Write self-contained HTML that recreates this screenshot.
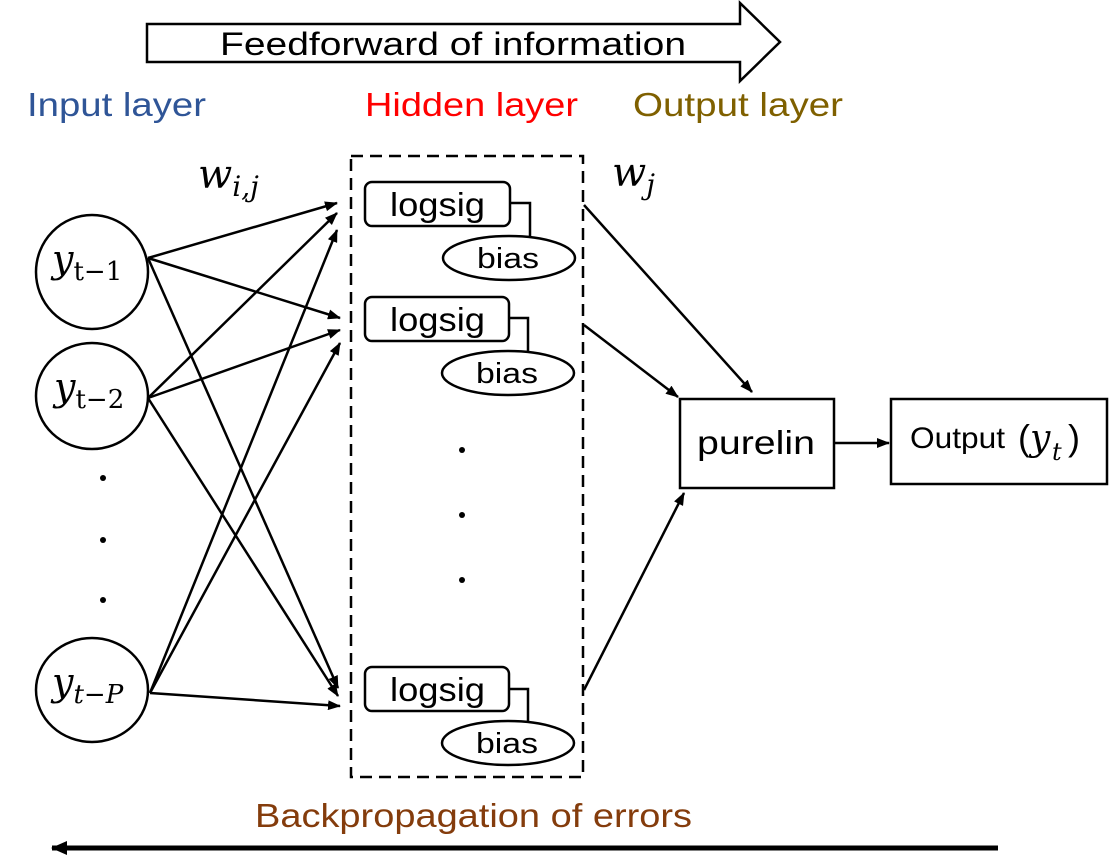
<!DOCTYPE html>
<html><head><meta charset="utf-8"><style>
html,body{margin:0;padding:0;background:#fff;width:1118px;height:864px;overflow:hidden}
svg text{font-family:"Liberation Sans","DejaVu Sans",sans-serif}
.m{font-family:"DejaVu Serif","Liberation Serif",serif;font-style:italic}
</style></head><body>
<svg width="1118" height="864" viewBox="0 0 1118 864" xmlns="http://www.w3.org/2000/svg">
<defs>
<marker id="a" markerWidth="13" markerHeight="10" refX="12" refY="5" orient="auto" markerUnits="userSpaceOnUse"><path d="M0,0 L13,5 L0,10 z" fill="#000"/></marker>
<marker id="b" markerWidth="16" markerHeight="14" refX="15" refY="7" orient="auto" markerUnits="userSpaceOnUse"><path d="M0,0 L16,7 L0,14 z" fill="#000"/></marker>
</defs>
<path d="M147,24 L740,24 L740,3 L780,42 L740,81 L740,62 L147,62 Z" fill="#fff" stroke="#000" stroke-width="2.5"/>
<text x="220" y="55" font-size="32" textLength="466" lengthAdjust="spacingAndGlyphs">Feedforward of information</text>
<text x="27" y="116" font-size="33" fill="#2F5597" textLength="179" lengthAdjust="spacingAndGlyphs">Input layer</text>
<text x="365" y="116" font-size="33" fill="#FF0000" textLength="213" lengthAdjust="spacingAndGlyphs">Hidden layer</text>
<text x="633" y="116" font-size="33" fill="#7F6000" textLength="210" lengthAdjust="spacingAndGlyphs">Output layer</text>
<text x="198" y="188" font-size="40" class="m">w<tspan font-size="28" dy="8">i,j</tspan></text>
<text x="612" y="186" font-size="40" class="m">w<tspan font-size="28" dy="8">j</tspan></text>
<g fill="#fff" stroke="#000" stroke-width="2.5">
<ellipse cx="92" cy="272" rx="56" ry="57"/>
<ellipse cx="92" cy="396" rx="56" ry="53"/>
<ellipse cx="92" cy="690" rx="56" ry="52"/>
</g>
<text x="52" y="272" font-size="38" class="m">y<tspan font-size="26" dy="8" font-style="normal">t−1</tspan></text>
<text x="54" y="400" font-size="38" class="m">y<tspan font-size="26" dy="8" font-style="normal">t−2</tspan></text>
<text x="52" y="695" font-size="38" class="m">y<tspan font-size="26" dy="8">t−P</tspan></text>
<g fill="#000"><circle cx="103" cy="478" r="3"/><circle cx="103" cy="540" r="3"/><circle cx="103" cy="600" r="3"/>
<circle cx="462" cy="450" r="3"/><circle cx="462" cy="515" r="3"/><circle cx="462" cy="580" r="3"/></g>
<g stroke="#000" stroke-width="2.5" marker-end="url(#a)">
<line x1="148" y1="258" x2="337" y2="203"/>
<line x1="148" y1="258" x2="340" y2="318"/>
<line x1="148" y1="258" x2="338" y2="688"/>
<line x1="148" y1="398" x2="337" y2="213"/>
<line x1="148" y1="398" x2="340" y2="330"/>
<line x1="148" y1="398" x2="338" y2="696"/>
<line x1="150" y1="693" x2="337" y2="230"/>
<line x1="150" y1="693" x2="340" y2="343"/>
<line x1="150" y1="693" x2="340" y2="706"/>
<line x1="584" y1="205" x2="752" y2="392"/>
<line x1="584" y1="325" x2="678" y2="397"/>
<line x1="584" y1="690" x2="684" y2="493"/>
<line x1="834" y1="443" x2="889" y2="443"/>
</g>
<rect x="351" y="156" width="232" height="621" fill="none" stroke="#000" stroke-width="2.5" stroke-dasharray="12,7"/>
<g fill="#fff" stroke="#000" stroke-width="2.5">
<rect x="365" y="182" width="145" height="44" rx="7"/>
<rect x="365" y="297" width="144" height="44" rx="7"/>
<rect x="365" y="667" width="144" height="44" rx="7"/>
<polyline points="510,203 530,203 530,237" fill="none"/>
<polyline points="509,318 528,318 528,352" fill="none"/>
<polyline points="509,689 528,689 528,722" fill="none"/>
<ellipse cx="509" cy="258" rx="66" ry="22"/>
<ellipse cx="508" cy="373" rx="66" ry="22"/>
<ellipse cx="508" cy="743" rx="66" ry="22"/>
</g>
<g font-size="33">
<text x="390" y="216" textLength="95" lengthAdjust="spacingAndGlyphs">logsig</text>
<text x="390" y="331" textLength="95" lengthAdjust="spacingAndGlyphs">logsig</text>
<text x="390" y="701" textLength="95" lengthAdjust="spacingAndGlyphs">logsig</text>
</g>
<g font-size="29">
<text x="477" y="268" textLength="62" lengthAdjust="spacingAndGlyphs">bias</text>
<text x="476" y="383" textLength="62" lengthAdjust="spacingAndGlyphs">bias</text>
<text x="476" y="753" textLength="62" lengthAdjust="spacingAndGlyphs">bias</text>
</g>
<rect x="680" y="399" width="154" height="89" fill="#fff" stroke="#000" stroke-width="2.5"/>
<text x="697" y="454" font-size="33" textLength="118" lengthAdjust="spacingAndGlyphs">purelin</text>
<rect x="891" y="399" width="216" height="85" fill="#fff" stroke="#000" stroke-width="2.5"/>
<text x="910" y="448" font-size="30" textLength="95" lengthAdjust="spacingAndGlyphs">Output</text>
<text x="1018" y="450" font-size="36" font-family="DejaVu Serif,serif">(</text>
<text x="1030" y="450" font-size="36" class="m">y</text>
<text x="1052" y="460" font-size="24" class="m">t</text>
<text x="1068" y="450" font-size="36" font-family="DejaVu Serif,serif">)</text>
<text x="255" y="827" font-size="33" fill="#843C0C" textLength="437" lengthAdjust="spacingAndGlyphs">Backpropagation of errors</text>
<line x1="998" y1="848" x2="52" y2="848" stroke="#000" stroke-width="5" marker-end="url(#b)"/>
</svg>
</body></html>
